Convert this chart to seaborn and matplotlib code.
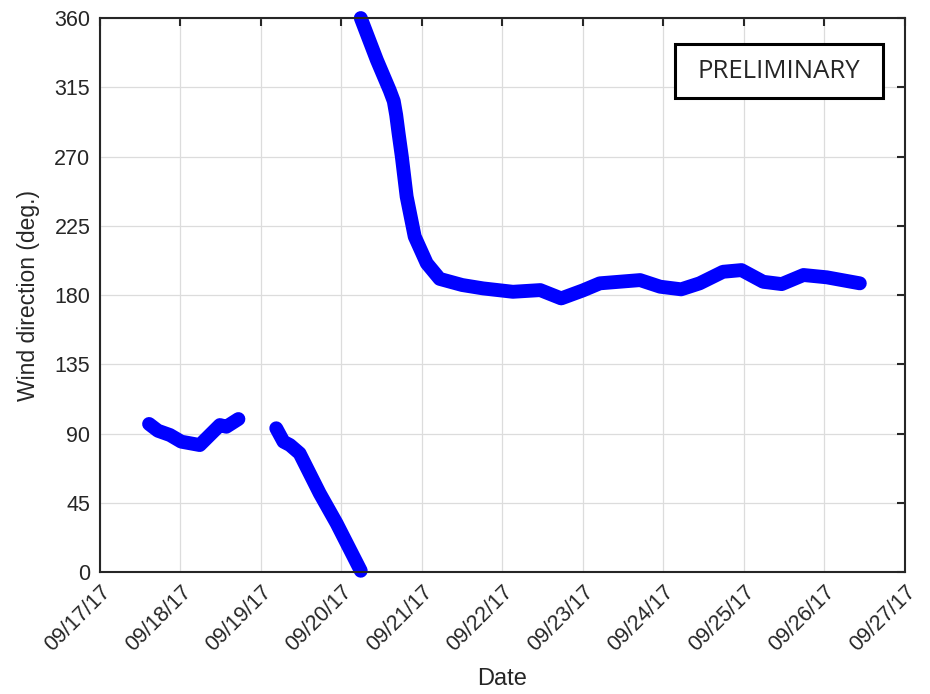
import pandas as pd
import numpy as np
import matplotlib
matplotlib.use('Agg')
import matplotlib.pyplot as plt
import matplotlib.dates as mdates
from matplotlib.patches import Rectangle
import seaborn as sns

# Wind direction readings, days after 09/17/17 00:00
seg1_days = [0.61, 0.72, 0.87, 1.01, 1.24, 1.49, 1.57, 1.72]
seg1_dir = [96.2, 91.8, 89.0, 84.7, 82.5, 95.5, 94.4, 99.4]

seg2_days = [2.19, 2.28, 2.36, 2.48, 2.73, 2.94, 3.24]
seg2_dir = [93.4, 84.7, 82.5, 77.1, 51.1, 31.6, 0.8]

seg3_days = [3.24, 3.44, 3.60, 3.65, 3.68, 3.71, 3.75, 3.81, 3.91, 4.06, 4.22, 4.50,
             4.76, 5.13, 5.47, 5.73, 6.00, 6.21, 6.71, 6.96, 7.22, 7.45,
             7.74, 7.97, 8.24, 8.47, 8.74, 9.03, 9.44]
seg3_dir = [360.0, 332.7, 313.0, 306.0, 297.0, 285.0, 270.0, 244.0, 218.0, 200.6, 190.5, 186.5,
            184.3, 182.1, 183.2, 177.8, 183.0, 187.6, 189.7, 185.4, 183.7, 187.6,
            195.1, 196.2, 188.6, 187.1, 193.0, 191.5, 187.6]

y_ticks = [0, 45, 90, 135, 180, 225, 270, 315, 360]

start = pd.Timestamp('2017-09-17')
frames = []
for i, (d, v) in enumerate([(seg1_days, seg1_dir), (seg2_days, seg2_dir), (seg3_days, seg3_dir)]):
    frames.append(pd.DataFrame({
        'Date': start + pd.to_timedelta(d, unit='D'),
        'Direction': v,
        'segment': i,
    }))
df = pd.concat(frames, ignore_index=True)

sns.set_style('white')
plt.rcParams['font.family'] = ['Liberation Sans', 'DejaVu Sans']

fig = plt.figure(figsize=(9.3, 6.94), dpi=100)
ax = fig.add_axes([0.1075, 0.1758, 0.8655, 0.7982])

sns.lineplot(data=df, x='Date', y='Direction', units='segment', estimator=None,
             sort=False, color='#0000ff', linewidth=10, ax=ax,
             solid_capstyle='round', solid_joinstyle='round')
for line in ax.lines:
    line.set_clip_on(False)

ax.set_xlim(start, start + pd.Timedelta(days=10))
ax.set_ylim(0, 360)
ax.set_yticks(y_ticks)
ax.xaxis.set_major_locator(mdates.DayLocator())
ax.xaxis.set_major_formatter(mdates.DateFormatter('%m/%d/%y'))
ax.grid(True, color='#dcdcdc', linewidth=0.9)
ax.set_axisbelow(True)

for s in ax.spines.values():
    s.set_color('#262626')
    s.set_linewidth(1.5)
ax.tick_params(direction='in', length=6, width=1.5, color='#262626',
               labelsize=15.5, labelcolor='#262626', top=True, right=True, pad=7)
plt.setp(ax.get_xticklabels(), rotation=45, ha='right', rotation_mode='anchor')

ax.set_xlabel('Date', fontsize=17, color='#262626', labelpad=9)
ax.set_ylabel('Wind direction (deg.)', fontsize=16.5, color='#262626', labelpad=10)

ax.add_patch(Rectangle((0.714, 0.856), 0.259, 0.097, transform=ax.transAxes,
                       facecolor='white', edgecolor='black', linewidth=2.2, zorder=5))
ax.text(0.8435, 0.904, 'PRELIMINARY', transform=ax.transAxes, ha='center', va='center',
        fontsize=18.5, family=['Open Sans', 'DejaVu Sans'], zorder=6)

fig.savefig('out.png', dpi=100)
